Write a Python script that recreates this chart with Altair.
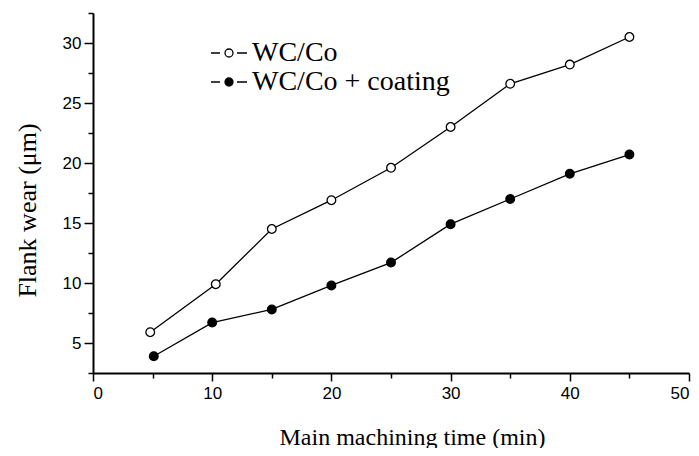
import altair as alt
import pandas as pd

# Data
wc_time = [4.8, 10.3, 15, 20, 25, 30, 35, 40, 45]
wc_wear = [5.9, 9.9, 14.5, 16.9, 19.6, 23.0, 26.6, 28.2, 30.5]
coat_time = [5.1, 10, 15, 20, 25, 30, 35, 40, 45]
coat_wear = [3.9, 6.7, 7.8, 9.8, 11.7, 14.9, 17.0, 19.1, 20.7]
series_names = ["WC/Co", "WC/Co + coating"]

x_major = [0, 10, 20, 30, 40, 50]
x_minor = [5, 15, 25, 35, 45]
y_major = [5, 10, 15, 20, 25, 30]
y_minor = [2.5, 7.5, 12.5, 17.5, 22.5, 27.5, 32.5]

df = pd.concat([
    pd.DataFrame({"t": wc_time, "wear": wc_wear, "series": series_names[0]}),
    pd.DataFrame({"t": coat_time, "wear": coat_wear, "series": series_names[1]}),
], ignore_index=True)

xs = alt.Scale(domain=[0, 50], nice=False, zero=False)
ys = alt.Scale(domain=[2.5, 32.5], nice=False, zero=False)

SERIF = "Liberation Serif"
SANS = "Liberation Sans"

base = alt.Chart(df)

lines = base.mark_line(color="black", strokeWidth=1.3).encode(
    x=alt.X("t:Q", scale=xs, axis=alt.Axis(
        values=x_major, tickSize=8, orient="bottom",
        title="Main machining time (min)", titleFont=SERIF, titleFontSize=24,
        titleFontWeight="normal", titleX=319, titleY=71, titleBaseline="alphabetic",
        labelFont=SANS, labelFontSize=17, labelPadding=4)),
    y=alt.Y("wear:Q", scale=ys, axis=alt.Axis(
        values=y_major, tickSize=9, orient="left",
        title="Flank wear (μm)", titleFont=SERIF, titleFontSize=26,
        titleFontWeight="normal", titleX=-53, titleY=197,
        labelFont=SANS, labelFontSize=17, labelPadding=3)),
    detail="series:N",
)

legend_path = ("M-1.8,0H-0.9M-0.4,0A0.4,0.4,0,1,1,0.4,0A0.4,0.4,0,1,1,-0.4,0"
               "M0.8,0H1.8")

points = base.mark_point(filled=True, stroke="black", strokeWidth=1.3,
                         size=75, opacity=1).encode(
    x=alt.X("t:Q", scale=xs, axis=None),
    y=alt.Y("wear:Q", scale=ys, axis=None),
    fill=alt.Fill("series:N",
                  scale=alt.Scale(domain=series_names, range=["white", "black"]),
                  legend=alt.Legend(
                      title=None, orient="none", legendX=122, legendY=26,
                      symbolType=legend_path, symbolSize=400,
                      symbolStrokeColor="black", symbolStrokeWidth=1.3,
                      labelFont=SERIF, labelFontSize=28, labelOffset=9,
                      labelLimit=0, labelColor="black", rowPadding=1)),
)

minor = base.mark_point(opacity=0).encode(
    x=alt.X("t:Q", scale=xs, axis=alt.Axis(
        values=x_minor, tickSize=5, labels=False, domain=False,
        orient="bottom", title=None)),
    y=alt.Y("wear:Q", scale=ys, axis=alt.Axis(
        values=y_minor, tickSize=5, labels=False, domain=False,
        orient="left", title=None)),
)

chart = alt.layer(lines, points, minor).resolve_axis(
    x="independent", y="independent"
).properties(
    width=596, height=360,
    autosize=alt.AutoSizeParams(type="none"),
    padding={"left": 85, "top": 5, "right": 2, "bottom": 75},
).configure_view(stroke=None).configure_axis(
    grid=False, domainColor="black", domainWidth=2,
    tickColor="black", tickWidth=1.5, labelColor="black", titleColor="black",
)

chart.save("out.html", embed_options={"renderer": "svg", "actions": False})
